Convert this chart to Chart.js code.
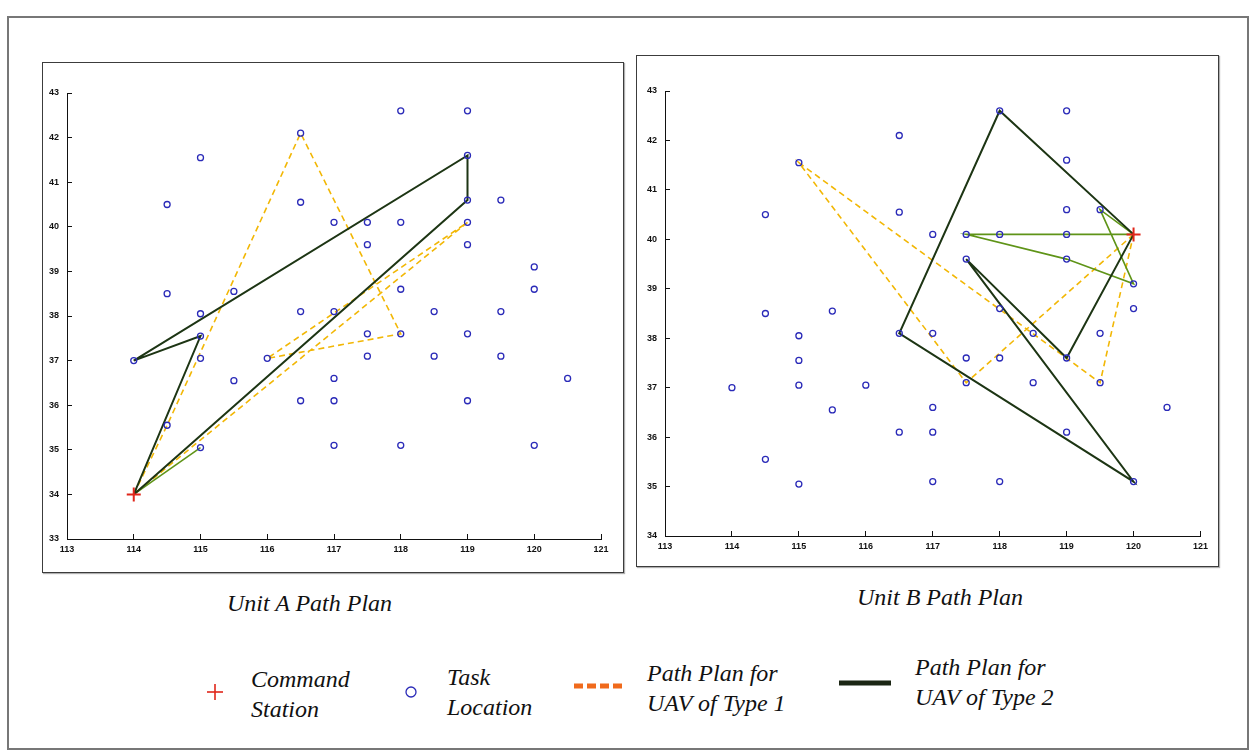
<!DOCTYPE html>
<html>
<head>
<meta charset="utf-8">
<title>Unit A / Unit B Path Plan</title>
<script src="https://cdn.jsdelivr.net/npm/chart.js@4.4.1/dist/chart.umd.min.js"></script>
<style>
    body { margin: 0; background: #fff; }
    #page { position: relative; width: 1250px; height: 751px; overflow: hidden; background: #fff; }
    #outer { position: absolute; left: 7px; top: 16px; width: 1238px; height: 730px; border: 2px solid #777; }
    .frame { position: absolute; border: 1px solid #3c3c3c; box-shadow: 1px 1px 1px #b0b0b0; }
    canvas { position: absolute; }
    .txt {
        position: absolute; font-family: "Liberation Serif", "Times New Roman", serif;
        font-style: italic; font-size: 24px; color: #111; white-space: nowrap; line-height: 30px;
    }
    svg { position: absolute; }
</style>
</head>
<body>
<div id="page">
    <div id="outer"></div>

    <div class="frame" style="left:42px; top:62px; width:580px; height:509px;"></div>
    <div class="frame" style="left:636px; top:55px; width:581px; height:510px;"></div>

    <canvas id="unitA" width="581" height="510" style="left:42px; top:62px;"></canvas>
    <canvas id="unitB" width="582" height="511" style="left:636px; top:55px;"></canvas>

    <div class="txt" style="left:227px; top:588px;">Unit A Path Plan</div>
    <div class="txt" style="left:857px; top:582px;">Unit B Path Plan</div>

    <!-- legend -->
    <svg width="20" height="20" style="left:205px; top:682px;">
        <line x1="2" y1="10" x2="18" y2="10" stroke="#e0261a" stroke-width="1.6"/>
        <line x1="10" y1="2" x2="10" y2="18" stroke="#e0261a" stroke-width="1.6"/>
    </svg>
    <div class="txt" style="left:251px; top:664px;">Command<br>Station</div>

    <svg width="16" height="16" style="left:403px; top:684px;">
        <circle cx="8" cy="8" r="5" fill="none" stroke="#2a2ab8" stroke-width="1.3"/>
    </svg>
    <div class="txt" style="left:447px; top:662px;">Task<br>Location</div>

    <svg width="56" height="12" style="left:572px; top:680px;">
        <line x1="2" y1="6" x2="54" y2="6" stroke="#f06a1c" stroke-width="5" stroke-dasharray="9,4"/>
    </svg>
    <div class="txt" style="left:647px; top:658px;">Path Plan for<br>UAV of Type 1</div>

    <svg width="56" height="12" style="left:837px; top:677px;">
        <line x1="2" y1="6" x2="54" y2="6" stroke="#1b2614" stroke-width="5"/>
    </svg>
    <div class="txt" style="left:915px; top:652px;">Path Plan for<br>UAV of Type 2</div>
</div>

<script>
// task locations (same set in both panels), longitude / latitude
const taskLng = [115, 114.5, 116.5, 116.5, 117, 114.5, 115.5, 115, 116.5, 117,
                 118, 119, 119, 119, 119.5, 117.5, 118, 119, 117.5, 119,
                 120, 120, 118, 118.5, 119.5, 117.5, 118, 119, 117.5, 118.5,
                 119.5, 120.5, 117, 117, 116.5, 119, 117, 118, 120, 115,
                 114, 115, 116, 115.5, 114.5, 115];
const taskLat = [41.55, 40.5, 42.1, 40.55, 40.1, 38.5, 38.55, 38.05, 38.1, 38.1,
                 42.6, 42.6, 41.6, 40.6, 40.6, 40.1, 40.1, 40.1, 39.6, 39.6,
                 39.1, 38.6, 38.6, 38.1, 38.1, 37.6, 37.6, 37.6, 37.1, 37.1,
                 37.1, 36.6, 36.6, 36.1, 36.1, 36.1, 35.1, 35.1, 35.1, 37.55,
                 37.0, 37.05, 37.05, 36.55, 35.55, 35.05];

const xTicks = [113, 114, 115, 116, 117, 118, 119, 120, 121];

// Unit A
const stationA = [114, 34];
const unitAType1 = [[114, 34], [114.5, 35.55], [116.5, 42.1], [118, 37.6], [116, 37.05], [119, 40.1], [114, 34]];
const unitAType2 = [[114, 34], [115, 37.55], [114, 37.0], [119, 41.6], [119, 40.6], [114, 34]];
const unitAType2b = [[114, 34], [115, 35.05]];

// Unit B
const stationB = [120, 40.1];
const unitBType1 = [[120, 40.1], [117.5, 37.1], [115, 41.55], [119.5, 37.1], [120, 40.1]];
const unitBType2 = [[120, 40.1], [118, 42.6], [116.5, 38.1], [120, 35.1], [117.5, 39.6], [119, 37.6], [120, 40.1]];
const unitBType2b = [[120, 40.1], [117.5, 40.1], [119, 39.6], [120, 39.1], [119.5, 40.6], [120, 40.1]];

function toPts(route) {
    return route.map(p => ({ x: p[0], y: p[1] }));
}

function routeSet(route, color, width, dash) {
    return {
        data: toPts(route),
        showLine: true,
        borderColor: color,
        borderWidth: width,
        borderDash: dash || [],
        pointRadius: 0,
        tension: 0
    };
}

function createPanel(canvasId, yMin, station, type1, type2, type2b, pad, yWidth) {
    const ctx = document.getElementById(canvasId).getContext('2d');
    const tasks = taskLng.map((x, i) => ({ x: x, y: taskLat[i] }));
    const tickFont = { family: 'Liberation Sans, Arial, sans-serif', size: 9, weight: 'bold' };

    new Chart(ctx, {
        type: 'scatter',
        data: {
            datasets: [
                {
                    data: [{ x: station[0], y: station[1] }],
                    pointStyle: 'cross',
                    pointRadius: 7,
                    borderColor: '#e0261a',
                    borderWidth: 2
                },
                {
                    data: tasks,
                    pointStyle: 'circle',
                    pointRadius: 3,
                    backgroundColor: 'rgba(255,255,255,0)',
                    borderColor: '#2a2ab8',
                    borderWidth: 1.3
                },
                routeSet(type2, '#1d3514', 2),
                routeSet(type2b, '#5f9418', 1.6),
                routeSet(type1, '#f2b705', 1.6, [6, 4])
            ]
        },
        options: {
            responsive: false,
            animation: false,
            layout: { padding: pad },
            plugins: {
                legend: { display: false },
                tooltip: { enabled: false }
            },
            scales: {
                x: {
                    type: 'linear',
                    min: 113,
                    max: 121,
                    afterFit: scale => { scale.height = 20; },
                    afterBuildTicks: scale => { scale.ticks = xTicks.map(v => ({ value: v })); },
                    grid: { drawOnChartArea: false, drawTicks: true, tickLength: -5, color: '#111' },
                    border: { display: true, color: '#111', width: 1 },
                    ticks: { font: tickFont, color: '#111', padding: 10, maxRotation: 0, autoSkip: false }
                },
                y: {
                    type: 'linear',
                    min: yMin,
                    max: 43,
                    afterFit: scale => { scale.width = yWidth; },
                    grid: { drawOnChartArea: false, drawTicks: true, tickLength: -5, color: '#111' },
                    border: { display: true, color: '#111', width: 1 },
                    ticks: { stepSize: 1, font: tickFont, color: '#111', padding: 13, autoSkip: false }
                }
            }
        }
    });
}

createPanel('unitA', 33, stationA, unitAType1, unitAType2, unitAType2b,
    { left: 0, top: 31, right: 22, bottom: 13 }, 25);
createPanel('unitB', 34, stationB, unitBType1, unitBType2, unitBType2b,
    { left: 0, top: 36, right: 17, bottom: 10 }, 29);
</script>
</body>
</html>
